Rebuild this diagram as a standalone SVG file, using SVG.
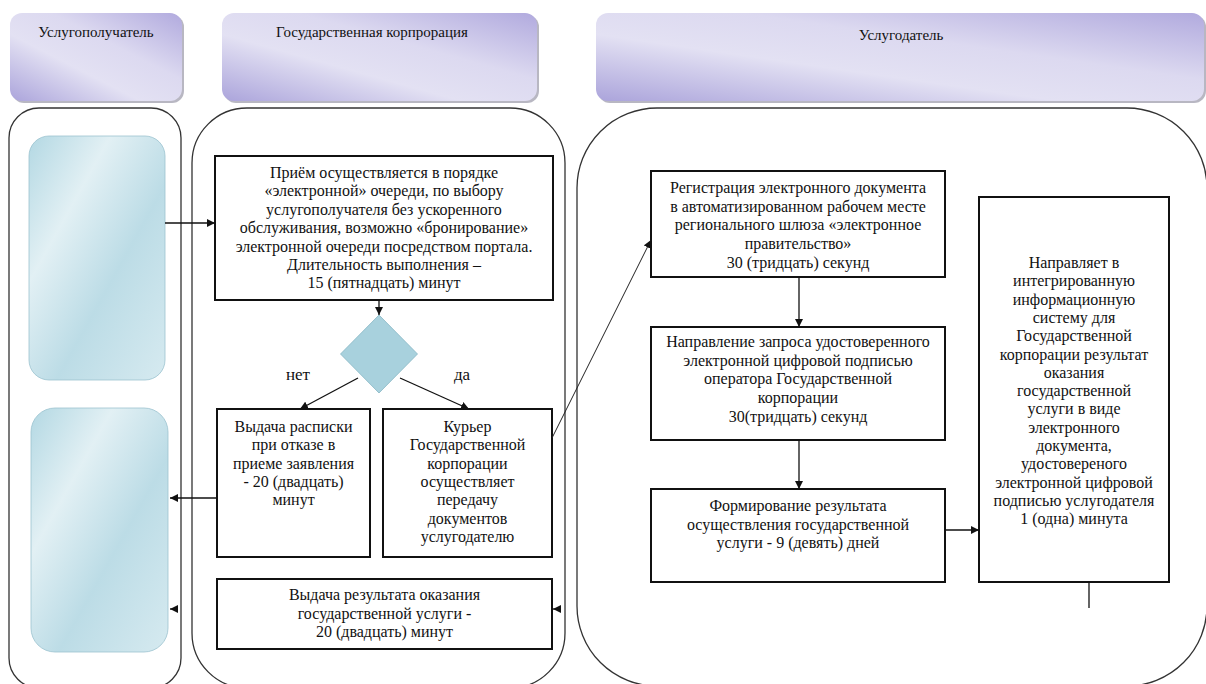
<svg xmlns="http://www.w3.org/2000/svg" width="1206" height="684" viewBox="0 0 1206 684">
<style>
.hdr{stroke:none}
.hdrshadow{fill:#9a98a8;opacity:0.7}
.hdrtxt{font-family:"Liberation Serif","Times New Roman",serif;font-size:15px;fill:#111;text-anchor:middle}
.lane{fill:none;stroke:#333;stroke-width:1.3}
.blue{fill:url(#gBlue);stroke:#9cc3cf;stroke-width:0.8}
.box{fill:#fff;stroke:#111;stroke-width:2}
.txt{font-family:"Liberation Serif","Times New Roman",serif;font-size:16px;fill:#111;text-anchor:middle}
.lbl{font-family:"Liberation Serif","Times New Roman",serif;font-size:17px;fill:#111;text-anchor:middle}
.con{fill:none;stroke:#111;stroke-width:1.3}
.thin{fill:none;stroke:#222;stroke-width:1}
</style>
<defs>
<linearGradient id="gHdr" x1="0" y1="1" x2="1" y2="0">
<stop offset="0" stop-color="#aba4db"/>
<stop offset="0.38" stop-color="#e3e1f3"/>
<stop offset="0.62" stop-color="#dcd9f0"/>
<stop offset="1" stop-color="#b1aade"/>
</linearGradient>
<linearGradient id="gBlue" x1="0" y1="0" x2="1" y2="1">
<stop offset="0" stop-color="#b3d8e3"/>
<stop offset="0.3" stop-color="#e2f0f4"/>
<stop offset="0.6" stop-color="#bcdce6"/>
<stop offset="1" stop-color="#d6eaf0"/>
</linearGradient>
<marker id="ah" viewBox="0 0 10 10" refX="10" refY="5" markerWidth="8" markerHeight="8" markerUnits="userSpaceOnUse" orient="auto">
<path d="M0,0 L10,5 L0,10 z" fill="#111"/>
</marker>
</defs>
<rect width="1206" height="684" fill="#fff"/>

<g id="header-1">
<rect class="hdrshadow" x="12" y="15" width="172" height="88" rx="12"/>
<rect class="hdr" x="10" y="13" width="172" height="88" rx="12" fill="url(#gHdr)"/>
<text class="hdrtxt" x="96" y="37">Услугополучатель</text>
</g>
<g id="header-2">
<rect class="hdrshadow" x="224" y="15" width="315" height="88" rx="12"/>
<rect class="hdr" x="222" y="13" width="315" height="88" rx="12" fill="url(#gHdr)"/>
<text class="hdrtxt" x="372" y="37">Государственная корпрорация</text>
</g>
<g id="header-3">
<rect class="hdrshadow" x="598" y="15" width="608" height="88" rx="12"/>
<rect class="hdr" x="596" y="13" width="608" height="88" rx="12" fill="url(#gHdr)"/>
<text class="hdrtxt" x="901" y="40">Услугодатель</text>
</g>

<g id="lane-1"><rect class="lane" x="9" y="108" width="172" height="580" rx="30"/></g>
<g id="lane-2"><rect class="lane" x="192" y="108" width="373" height="580" rx="55"/></g>
<g id="lane-3"><rect class="lane" x="577" y="108" width="630" height="578" rx="80"/></g>

<g id="client-1"><rect class="blue" x="29" y="136" width="136" height="244" rx="20"/></g>
<g id="client-2"><rect class="blue" x="31" y="408" width="137" height="244" rx="24"/></g>

<g id="box-reception">
<rect class="box" x="215" y="156" width="338" height="144"/>
<text class="txt" x="384" y="178">Приём осуществляется в порядке<tspan x="384" dy="18.4">«электронной» очереди, по выбору</tspan><tspan x="384" dy="18.4">услугополучателя без ускоренного</tspan><tspan x="384" dy="18.4">обслуживания, возможно «бронирование»</tspan><tspan x="384" dy="18.4">электронной очереди посредством портала.</tspan><tspan x="384" dy="18.4">Длительность выполнения –</tspan><tspan x="384" dy="18.4">15 (пятнадцать) минут</tspan></text>
</g>

<g id="decision">
<polygon points="379,315 417.5,354 379,393 340.5,354" fill="#a8d1dd" stroke="#86b6c4" stroke-width="0.8"/>
</g>
<g id="label-net"><text class="lbl" x="298" y="380">нет</text></g>
<g id="label-da"><text class="lbl" x="462" y="380">да</text></g>

<g id="box-refusal">
<rect class="box" x="217" y="409" width="153" height="148"/>
<text class="txt" x="293.5" y="432">Выдача расписки<tspan x="293.5" dy="18.3">при отказе в</tspan><tspan x="293.5" dy="18.3">приеме заявления</tspan><tspan x="293.5" dy="18.3">- 20 (двадцать)</tspan><tspan x="293.5" dy="18.3">минут</tspan></text>
</g>

<g id="box-courier">
<rect class="box" x="383" y="409" width="169" height="148"/>
<text class="txt" x="467.5" y="432">Курьер<tspan x="467.5" dy="18.3">Государственной</tspan><tspan x="467.5" dy="18.3">корпорации</tspan><tspan x="467.5" dy="18.3">осуществляет</tspan><tspan x="467.5" dy="18.3">передачу</tspan><tspan x="467.5" dy="18.3">документов</tspan><tspan x="467.5" dy="18.3">услугодателю</tspan></text>
</g>

<g id="box-result-issue">
<rect class="box" x="217" y="579" width="335" height="70"/>
<text class="txt" x="384.5" y="600">Выдача результата оказания<tspan x="384.5" dy="18.5">государственной услуги -</tspan><tspan x="384.5" dy="18.5">20 (двадцать) минут</tspan></text>
</g>

<g id="box-registration">
<rect class="box" x="651" y="171" width="294" height="106"/>
<text class="txt" x="798" y="193">Регистрация электронного документа<tspan x="798" dy="18.7">в автоматизированном рабочем месте</tspan><tspan x="798" dy="18.7">регионального шлюза «электронное</tspan><tspan x="798" dy="18.7">правительство»</tspan><tspan x="798" dy="18.7">30 (тридцать) секунд</tspan></text>
</g>

<g id="box-request">
<rect class="box" x="651" y="327" width="294" height="113"/>
<text class="txt" x="798" y="347">Направление запроса удостоверенного<tspan x="798" dy="18.7">электронной цифровой подписью</tspan><tspan x="798" dy="18.7">оператора Государственной</tspan><tspan x="798" dy="18.7">корпорации</tspan><tspan x="798" dy="18.7">30(тридцать) секунд</tspan></text>
</g>

<g id="box-forming">
<rect class="box" x="651" y="489" width="294" height="93"/>
<text class="txt" x="798" y="511">Формирование результата<tspan x="798" dy="18.5">осуществления государственной</tspan><tspan x="798" dy="18.5">услуги - 9 (девять) дней</tspan></text>
</g>

<g id="box-send">
<rect class="box" x="979" y="197" width="190" height="385"/>
<text class="txt" x="1074" y="268">Направляет в<tspan x="1074" dy="18.3">интегрированную</tspan><tspan x="1074" dy="18.3">информационную</tspan><tspan x="1074" dy="18.3">систему для</tspan><tspan x="1074" dy="18.3">Государственной</tspan><tspan x="1074" dy="18.3">корпорации результат</tspan><tspan x="1074" dy="18.3">оказания</tspan><tspan x="1074" dy="18.3">государственной</tspan><tspan x="1074" dy="18.3">услуги в виде</tspan><tspan x="1074" dy="18.3">электронного</tspan><tspan x="1074" dy="18.3">документа,</tspan><tspan x="1074" dy="18.3">удостовереного</tspan><tspan x="1074" dy="18.3">электронной цифровой</tspan><tspan x="1074" dy="18.3">подписью услугодателя</tspan><tspan x="1074" dy="18.3">1 (одна) минута</tspan></text>
</g>

<g id="connectors">
<path class="con" d="M165,223 L215,223" marker-end="url(#ah)"/>
<path class="con" d="M379,300 L379,315" marker-end="url(#ah)"/>
<path class="con" d="M358,378 L300,409" marker-end="url(#ah)"/>
<path class="con" d="M400,378 L469,409" marker-end="url(#ah)"/>
<path class="con" d="M217,498 L170,498" marker-end="url(#ah)"/>
<path class="con" d="M178,609 L170,609" marker-end="url(#ah)"/>
<path class="con" d="M561,609 L553,609" marker-end="url(#ah)"/>
<path class="thin" d="M552,438 L651,240" marker-end="url(#ah)"/>
<path class="con" d="M799,277 L799,327" marker-end="url(#ah)"/>
<path class="con" d="M799,440 L799,489" marker-end="url(#ah)"/>
<path class="con" d="M945,530 L979,530" marker-end="url(#ah)"/>
<path class="con" d="M1089,582 L1089,608"/>
</g>
</svg>
